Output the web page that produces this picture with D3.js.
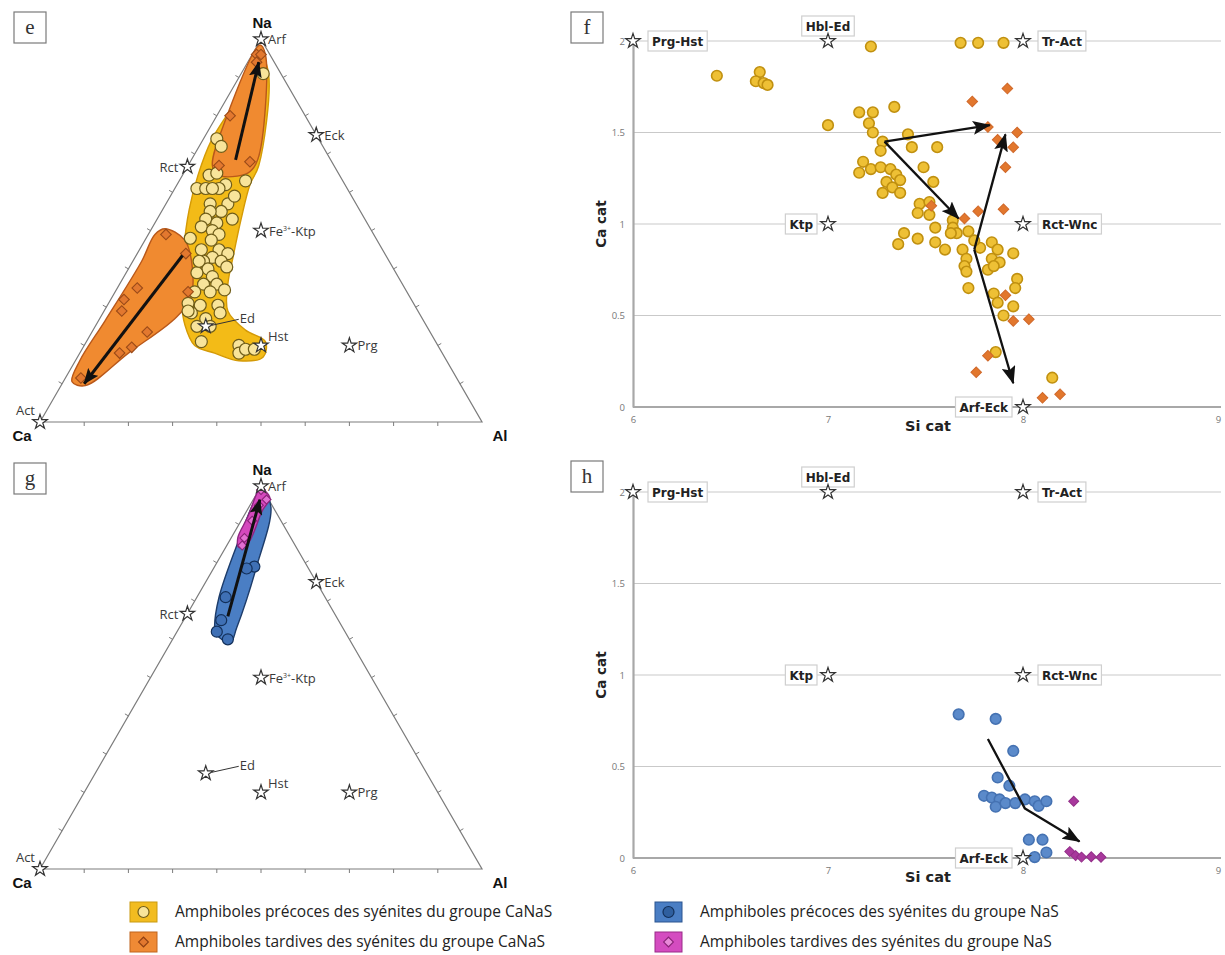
<!DOCTYPE html>
<html><head><meta charset="utf-8">
<script src="https://cdn.jsdelivr.net/npm/d3@7"></script>
<style>body{margin:0;background:#fff}svg{display:block}</style>
</head><body>
<svg id="c" width="1225" height="955"></svg>
<script>
// ===================== DATA =====================
// Ternary values are [Na, Al] fractions (Ca = 1 - Na - Al)
const ternEndmembers = [
  {name:"Arf", na:1.00, al:0.00},
  {name:"Eck", na:0.75, al:0.25},
  {name:"Rct", na:0.667, al:0.00},
  {name:"Fe³⁺-Ktp", na:0.50, al:0.25},
  {name:"Ed", na:0.25, al:0.25},
  {name:"Hst", na:0.20, al:0.40},
  {name:"Prg", na:0.20, al:0.60},
  {name:"Act", na:0.00, al:0.00}
];
// panel e : CaNaS group
const eEarly = [[.91,.05],[.74,.03],[.72,.05],[.645,.06],[.65,.075],[.62,.11],[.63,.15],[.61,.05],[.61,.07],[.61,.10],
 [.57,.10],[.57,.14],[.55,.135],[.55,.11],[.53,.17],[.53,.11],[.52,.14],[.51,.11],[.50,.14],[.49,.16],[.48,.10],[.475,.15],
 [.45,.14],[.45,.18],[.44,.205],[.43,.175],[.42,.16],[.42,.20],[.405,.22],[.40,.18],[.39,.16],[.38,.20],[.36,.19],[.36,.22],
 [.34,.18],[.34,.215],[.31,.18],[.305,.21],[.305,.25],[.285,.20],[.285,.265],[.27,.24],[.25,.26],[.29,.19],[.21,.26],
 [.20,.35],[.18,.36],[.19,.37],[.19,.39],[.61,.085],[.59,.145],[.42,.15],[.345,.245],[.25,.23]];
const eLate = [[.96,.01],[.96,.02],[.94,.02],[.80,.03],[.67,.07],[.68,.135],[.49,.04],[.44,.11],[.34,.165],[.35,.045],
 [.32,.03],[.29,.04],[.235,.125],[.195,.11],[.18,.09],[.115,.035]];
const eEarlyField = [[.96,.02],[.905,.065],[.67,.16],[.62,.165],[.53,.19],[.435,.22],[.36,.245],[.29,.28],[.24,.345],[.21,.405],
 [.17,.42],[.16,.37],[.18,.305],[.20,.25],[.255,.20],[.32,.16],[.45,.10],[.555,.06],[.645,.035],[.735,.02],[.855,.025]];
const eLateFieldUpper = [[.985,.005],[.96,.03],[.685,.15],[.65,.145],[.645,.08],[.67,.055],[.79,.025]];
const eLateFieldLower = [[.505,.03],[.475,.09],[.40,.145],[.32,.18],[.27,.17],[.18,.11],[.095,.055],[.105,.02],[.16,.01],[.265,.015],[.42,.02],[.49,.015]];
const eTrends = [[[.685,.10],[.94,.025]], [[.435,.105],[.10,.05]]];
// panel g : NaS group
const gEarly = [[.62,.09],[.60,.125],[.71,.065],[.79,.09],[.785,.075],[.65,.085]];
const gLate = [[.99,.005],[.965,.03],[.95,.02],[.91,.025],[.865,.03],[.845,.035]];
const gEarlyField = [[.615,.09],[.59,.135],[.63,.13],[.79,.095],[.945,.05],[.99,.01],[.96,.005],[.86,.02],[.71,.05],[.63,.08]];
const gLateField = [[.995,.0],[.97,.035],[.935,.035],[.85,.045],[.84,.03],[.865,.015],[.92,.01],[.98,.0]];
const gTrends = [[[.66,.095],[.965,.015]]];

// Si vs Ca diagrams: [Si cat, Ca cat]
const siTicks = [6,7,8,9];
const caTicks = [0,0.5,1,1.5,2];
const binEndmembers = [
  {name:"Prg-Hst", si:6, ca:2}, {name:"Hbl-Ed", si:7, ca:2}, {name:"Tr-Act", si:8, ca:2},
  {name:"Ktp", si:7, ca:1}, {name:"Rct-Wnc", si:8, ca:1}, {name:"Arf-Eck", si:8, ca:0}
];
const fEarly = [[6.43,1.81],[6.65,1.83],[6.63,1.78],[6.67,1.77],[6.69,1.76],[7.22,1.97],[7.68,1.99],[7.77,1.99],[7.90,1.99],
 [7.00,1.54],[7.16,1.61],[7.23,1.61],[7.21,1.55],[7.23,1.50],[7.34,1.64],[7.28,1.45],[7.27,1.40],[7.41,1.49],[7.43,1.42],
 [7.56,1.42],[7.18,1.34],[7.16,1.28],[7.22,1.30],[7.27,1.31],[7.32,1.30],[7.35,1.27],[7.37,1.24],[7.30,1.23],[7.33,1.20],
 [7.28,1.17],[7.37,1.17],[7.49,1.31],[7.54,1.23],[7.47,1.11],[7.52,1.12],[7.46,1.06],[7.52,1.05],[7.64,1.02],[7.64,0.98],
 [7.72,0.96],[7.66,0.95],[7.63,0.95],[7.39,0.95],[7.46,0.92],[7.36,0.89],[7.55,0.90],[7.60,0.86],[7.69,0.86],[7.71,0.81],
 [7.70,0.77],[7.71,0.74],[7.78,0.87],[7.84,0.90],[7.87,0.86],[7.84,0.81],[7.88,0.79],[7.82,0.75],[7.85,0.77],[7.95,0.84],
 [7.72,0.65],[7.97,0.70],[7.85,0.62],[7.96,0.65],[7.87,0.57],[7.95,0.55],[7.90,0.50],[7.86,0.30],[8.15,0.16],[7.55,0.98],[7.75,0.91]];
const fLate = [[7.92,1.74],[7.74,1.67],[7.82,1.53],[7.87,1.46],[7.97,1.50],[7.95,1.42],[7.91,1.31],[7.90,1.08],[7.77,1.07],
 [7.70,1.03],[7.53,1.10],[7.91,0.61],[7.95,0.47],[8.03,0.48],[7.82,0.28],[7.76,0.19],[8.10,0.05],[8.19,0.07]];
const fTrends = [[[7.29,1.45],[7.83,1.54]], [[7.29,1.45],[7.67,1.03]], [[7.75,0.86],[7.91,1.49]], [[7.75,0.86],[7.95,0.13]]];
const hEarly = [[7.67,0.785],[7.86,0.76],[7.95,0.585],[7.87,0.44],[7.93,0.395],[7.80,0.34],[7.84,0.33],[7.88,0.32],[7.86,0.28],
 [7.91,0.30],[7.96,0.30],[8.01,0.32],[8.06,0.31],[8.08,0.285],[8.12,0.31],[8.03,0.10],[8.10,0.10],[8.12,0.03],[8.06,0.005]];
const hLate = [[8.26,0.31],[8.24,0.035],[8.27,0.013],[8.30,0.005],[8.35,0.007],[8.40,0.004]];
const hTrends = [[[7.82,0.65],[8.01,0.27],[8.29,0.09]]];

const legendItems = [
  {label:"Amphiboles précoces des syénites du groupe CaNaS", key:"yellow", shape:"circle"},
  {label:"Amphiboles tardives des syénites du groupe CaNaS", key:"orange", shape:"diamond"},
  {label:"Amphiboles précoces des syénites du groupe NaS", key:"blue", shape:"circle"},
  {label:"Amphiboles tardives des syénites du groupe NaS", key:"pink", shape:"diamond"}
];

// ===================== STYLE =====================
const C = {
  yellowField:"#F3BB17", yellowFieldStroke:"#D49A06",
  orangeField:"#F08A30", orangeFieldStroke:"#B9581A",
  blueField:"#4A7EC4", blueFieldStroke:"#1D3C6A",
  pinkField:"#D548BE", pinkFieldStroke:"#8E2680"
};
const font = "'Open Sans','Noto Sans',sans-serif";
const svg = d3.select("#c");
const defs = svg.append("defs");
function marker(id, w, h){
  defs.append("marker").attr("id",id).attr("markerUnits","userSpaceOnUse")
    .attr("markerWidth",w).attr("markerHeight",h).attr("refX",w-1).attr("refY",h/2)
    .attr("orient","auto")
    .append("path").attr("d",`M0,0 L${w},${h/2} L0,${h} L${w*0.2},${h/2} Z`).attr("fill","#111");
}
marker("arrT",16,13);
marker("arrB",18,14);

function panelLetter(x,y,t){
  svg.append("rect").attr("x",x).attr("y",y).attr("width",32).attr("height",31)
    .attr("fill","#fff").attr("stroke","#7a7a7a").attr("stroke-width",1.2);
  svg.append("text").attr("x",x+16).attr("y",y+22).attr("text-anchor","middle")
    .attr("font-family","'Liberation Serif','DejaVu Serif',serif").attr("font-size",21).attr("fill","#333").text(t);
}

const starSym = d3.symbol().type(d3.symbolStar).size(66);

// ===================== TERNARY =====================
const ternLabelPos = {
  "Arf":{dx:7,dy:5,a:"start"}, "Eck":{dx:8,dy:5,a:"start"}, "Rct":{dx:-9,dy:5,a:"end"},
  "Fe³⁺-Ktp":{dx:8,dy:5,a:"start"}, "Ed":{dx:34,dy:-3,a:"start",leader:true},
  "Hst":{dx:7,dy:-4,a:"start"}, "Prg":{dx:8,dy:5,a:"start"}, "Act":{dx:-5,dy:-7,a:"end"}
};
function drawTernary(cfg){
  const g = svg.append("g");
  const side = cfg.x1 - cfg.x0;
  const xs = d3.scaleLinear().domain([0,1]).range([cfg.x0,cfg.x1]);
  const ys = d3.scaleLinear().domain([0,1]).range([cfg.base, cfg.base - side*Math.sqrt(3)/2]);
  const P = (na,al)=>[xs(al+na/2), ys(na)];
  const tri = [P(0,0),P(1,0),P(0,1)];
  g.append("path").attr("d","M"+tri.join("L")+"Z").attr("fill","none").attr("stroke","#7c7c7c").attr("stroke-width",1.2);
  const tk = [];
  for(let k=1;k<10;k++){
    const f=k/10;
    tk.push({p:P(0,f), n:[0,1]});
    tk.push({p:P(f,0), n:[-0.866,-0.5]});
    tk.push({p:P(f,1-f), n:[0.866,-0.5]});
  }
  g.selectAll(".tk").data(tk).join("line")
    .attr("x1",d=>d.p[0]).attr("y1",d=>d.p[1]).attr("x2",d=>d.p[0]+d.n[0]*4).attr("y2",d=>d.p[1]+d.n[1]*4)
    .attr("stroke","#7c7c7c").attr("stroke-width",1);
  const area = d3.line().curve(d3.curveCatmullRomClosed.alpha(0.5));
  cfg.fields.forEach(f=>{
    g.append("path").attr("d",area(f.pts.map(d=>P(d[0],d[1]))))
      .attr("fill",f.fill).attr("stroke",f.stroke).attr("stroke-width",1.4);
  });
  cfg.series.forEach(s=>{
    if(s.shape==="circle"){
      g.selectAll(null).data(s.pts).join("circle")
        .attr("cx",d=>P(d[0],d[1])[0]).attr("cy",d=>P(d[0],d[1])[1]).attr("r",s.r)
        .attr("fill",s.fill).attr("stroke",s.stroke).attr("stroke-width",1.2);
    } else {
      const sym = d3.symbol().type(d3.symbolSquare).size(s.size);
      g.selectAll(null).data(s.pts).join("path").attr("d",sym)
        .attr("transform",d=>{const p=P(d[0],d[1]);return `translate(${p[0]},${p[1]}) rotate(45)`;})
        .attr("fill",s.fill).attr("stroke",s.stroke).attr("stroke-width",1.1);
    }
  });
  cfg.trends.forEach(t=>{
    g.append("path").attr("d",d3.line()(t.map(d=>P(d[0],d[1]))))
      .attr("fill","none").attr("stroke","#111").attr("stroke-width",3).attr("marker-end","url(#arrT)");
  });
  ternEndmembers.forEach(e=>{
    const p = P(e.na,e.al), lp = ternLabelPos[e.name];
    g.append("path").attr("d",starSym).attr("transform",`translate(${p[0]},${p[1]})`)
      .attr("fill","#fff").attr("stroke","#333").attr("stroke-width",1.2);
    if(lp.leader){
      g.append("line").attr("x1",p[0]+6).attr("y1",p[1]-1).attr("x2",p[0]+lp.dx-1).attr("y2",p[1]+lp.dy-4)
        .attr("stroke","#333").attr("stroke-width",1);
    }
    const t = g.append("text").attr("x",p[0]+lp.dx).attr("y",p[1]+lp.dy).attr("text-anchor",lp.a)
      .attr("font-family",font).attr("font-size",13).attr("fill","#3a3a3a");
    if(e.name.startsWith("Fe")){
      t.append("tspan").text("Fe");
      t.append("tspan").attr("font-size",7).attr("dy",-5).text("3+");
      t.append("tspan").attr("dy",5).text("-Ktp");
    } else t.text(e.name);
  });
  const apex = [{t:"Na",p:P(1,0),dx:1,dy:-11,a:"middle"},{t:"Ca",p:P(0,0),dx:-18,dy:19,a:"middle"},{t:"Al",p:P(0,1),dx:18,dy:19,a:"middle"}];
  apex.forEach(a=>g.append("text").attr("x",a.p[0]+a.dx).attr("y",a.p[1]+a.dy).attr("text-anchor",a.a)
    .attr("font-family","'Liberation Sans',Arial,sans-serif").attr("font-weight","bold").attr("font-size",15).attr("fill","#111").text(a.t));
}

drawTernary({x0:40,x1:482,base:422,
  fields:[{pts:eEarlyField,fill:C.yellowField,stroke:C.yellowFieldStroke},
          {pts:eLateFieldUpper,fill:C.orangeField,stroke:C.orangeFieldStroke},
          {pts:eLateFieldLower,fill:C.orangeField,stroke:C.orangeFieldStroke}],
  series:[{pts:eEarly,shape:"circle",r:6,fill:"#F8E49A",stroke:"#6F5D1A"},
          {pts:eLate,shape:"diamond",size:56,fill:"#E2782F",stroke:"#9A4A18"}],
  trends:eTrends});
drawTernary({x0:40,x1:482,base:869,
  fields:[{pts:gEarlyField,fill:C.blueField,stroke:C.blueFieldStroke},
          {pts:gLateField,fill:C.pinkField,stroke:C.pinkFieldStroke}],
  series:[{pts:gEarly,shape:"circle",r:5.5,fill:"#3F70B5",stroke:"#13305A"},
          {pts:gLate,shape:"diamond",size:40,fill:"#E26FD2",stroke:"#8A2278"}],
  trends:gTrends});

// ===================== Si vs Ca =====================
const binLabelPos = {
  "Prg-Hst":{side:"right"}, "Hbl-Ed":{side:"above"}, "Tr-Act":{side:"right"},
  "Ktp":{side:"left"}, "Rct-Wnc":{side:"right"}, "Arf-Eck":{side:"left"}
};
function drawBinary(cfg){
  const g = svg.append("g");
  const x = d3.scaleLinear().domain([6,9]).range([633,1218]);
  const y = d3.scaleLinear().domain([0,2]).range([cfg.y0, cfg.y0-366]);
  g.selectAll(null).data(caTicks.filter(d=>d>0)).join("line")
    .attr("x1",x(6)).attr("x2",1221).attr("y1",d=>y(d)).attr("y2",d=>y(d))
    .attr("stroke","#c9c9c9").attr("stroke-width",1.2);
  const ax = g.append("g").attr("transform",`translate(0,${y(0)})`)
    .call(d3.axisBottom(x).tickValues(siTicks).tickSize(0).tickPadding(9).tickFormat(d3.format("d")));
  ax.select(".domain").attr("stroke","#a8a8a8").attr("stroke-width",2.2).attr("d",`M${x(6)},0H1221`);
  const ay = g.append("g").attr("transform",`translate(${x(6)},0)`)
    .call(d3.axisLeft(y).tickValues(caTicks).tickSize(0).tickPadding(8).tickFormat(d=>String(d)));
  ay.select(".domain").attr("stroke","#a8a8a8").attr("stroke-width",2.2);
  g.selectAll(".tick text").attr("font-family",font).attr("font-size",9.5).attr("fill","#777");
  g.append("text").attr("transform",`translate(606,${y(1)}) rotate(-90)`).attr("text-anchor","middle")
    .attr("font-family","'DejaVu Sans',Verdana,sans-serif").attr("font-weight","bold").attr("font-size",13.5).attr("fill","#222").text("Ca cat");
  g.append("text").attr("x",928).attr("y",y(0)+24).attr("text-anchor","middle")
    .attr("font-family","'DejaVu Sans',Verdana,sans-serif").attr("font-weight","bold").attr("font-size",14.5).attr("fill","#222").text("Si cat");
  cfg.series.forEach(s=>{
    if(s.shape==="circle"){
      g.selectAll(null).data(s.pts).join("circle").attr("cx",d=>x(d[0])).attr("cy",d=>y(d[1])).attr("r",s.r)
        .attr("fill",s.fill).attr("stroke",s.stroke).attr("stroke-width",1.6);
    } else {
      const sym = d3.symbol().type(d3.symbolSquare).size(s.size);
      g.selectAll(null).data(s.pts).join("path").attr("d",sym)
        .attr("transform",d=>`translate(${x(d[0])},${y(d[1])}) rotate(45)`)
        .attr("fill",s.fill).attr("stroke",s.stroke).attr("stroke-width",1);
    }
  });
  cfg.trends.forEach(t=>{
    g.append("path").attr("d",d3.line()(t.map(d=>[x(d[0]),y(d[1])])))
      .attr("fill","none").attr("stroke","#111").attr("stroke-width",2.3).attr("stroke-linejoin","round").attr("marker-end","url(#arrB)");
  });
  binEndmembers.forEach(e=>{
    const px=x(e.si), py=y(e.ca), side=binLabelPos[e.name].side;
    const lg = g.append("g");
    const rect = lg.append("rect");
    const t = lg.append("text").attr("font-family","'DejaVu Sans',Verdana,sans-serif").attr("font-weight","bold")
      .attr("font-size",12).attr("fill","#222").text(e.name);
    const w = t.node().getComputedTextLength()+8, h=20;
    let bx, by;
    if(side==="right"){bx=px+15; by=py-h/2;}
    else if(side==="left"){bx=px-11-w; by=py-h/2;}
    else {bx=px-w/2; by=py-h-5;}
    rect.attr("x",bx).attr("y",by).attr("width",w).attr("height",h)
      .attr("fill","#fff").attr("stroke","#cfcfcf").attr("stroke-width",1.2);
    t.attr("x",bx+4).attr("y",by+14.5);
    g.append("path").attr("d",starSym).attr("transform",`translate(${px},${py})`)
      .attr("fill","#fff").attr("stroke","#333").attr("stroke-width",1.2);
  });
}
drawBinary({y0:407,
  series:[{pts:fEarly,shape:"circle",r:5.3,fill:"#EEC035",stroke:"#C09010"},
          {pts:fLate,shape:"diamond",size:56,fill:"#E2772D",stroke:"#D0682A"}],
  trends:fTrends});
drawBinary({y0:858,
  series:[{pts:hEarly,shape:"circle",r:5.3,fill:"#5B8ACA",stroke:"#4572B2"},
          {pts:hLate,shape:"diamond",size:50,fill:"#A8389C",stroke:"#922E88"}],
  trends:hTrends});

panelLetter(14,12,"e");
panelLetter(571,12,"f");
panelLetter(14,463,"g");
panelLetter(571,461,"h");

// ===================== LEGEND =====================
const legCol = {
  yellow:{bg:"#F2BC20",bd:"#C99A10",fg:"#F8E49A",fs:"#6F5D1A"},
  orange:{bg:"#EF8A35",bd:"#C0641E",fg:"#E2782F",fs:"#8E3F12"},
  blue:{bg:"#4A7EC4",bd:"#2B5590",fg:"#2F5F9F",fs:"#13305A"},
  pink:{bg:"#D44CC0",bd:"#9A2A88",fg:"#E88AD8",fs:"#8A2278"}
};
const lgd = svg.append("g");
legendItems.forEach((d,i)=>{
  const lx = i<2 ? 130 : 655, ly = i%2===0 ? 912 : 942;
  const c = legCol[d.key];
  lgd.append("rect").attr("x",lx).attr("y",ly-10).attr("width",27).attr("height",20)
    .attr("fill",c.bg).attr("stroke",c.bd).attr("stroke-width",1);
  if(d.shape==="circle"){
    lgd.append("circle").attr("cx",lx+13.5).attr("cy",ly).attr("r",5.5).attr("fill",c.fg).attr("stroke",c.fs).attr("stroke-width",1.2);
  } else {
    lgd.append("path").attr("d",d3.symbol().type(d3.symbolSquare).size(48)).attr("transform",`translate(${lx+13.5},${ly}) rotate(45)`)
      .attr("fill",c.fg).attr("stroke",c.fs).attr("stroke-width",1.1);
  }
  lgd.append("text").attr("x",lx+45).attr("y",ly+5).attr("font-family",font).attr("font-size",15.5)
    .attr("fill","#222").text(d.label);
});
</script>
</body></html>
